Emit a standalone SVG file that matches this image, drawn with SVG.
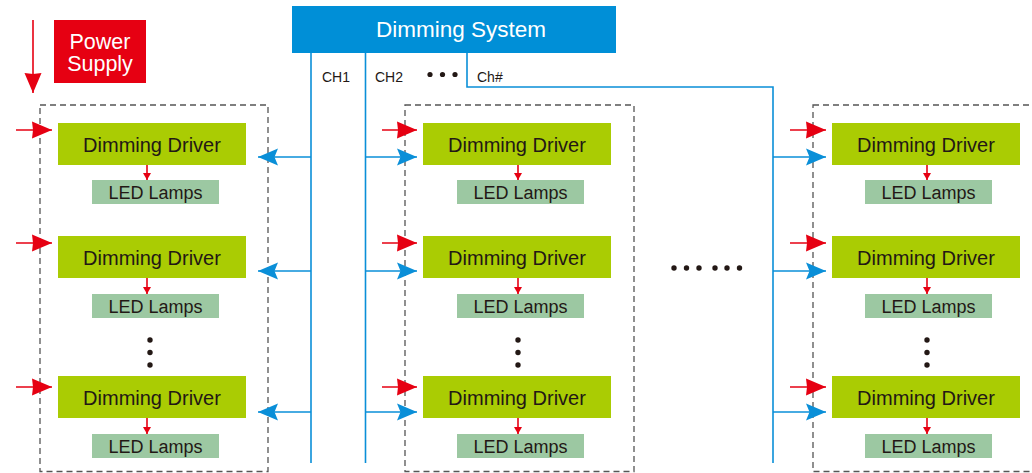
<svg xmlns="http://www.w3.org/2000/svg" width="1032" height="473" viewBox="0 0 1032 473">
<defs>
<style>
.drv{fill:#AACC03}
.led{fill:#9CC8A2}
.dt{font-family:"Liberation Sans",Arial,sans-serif;font-size:20px;fill:#231815;text-anchor:middle}
.lt{font-family:"Liberation Sans",Arial,sans-serif;font-size:18px;fill:#231815;text-anchor:middle}
.ch{font-family:"Liberation Sans",Arial,sans-serif;font-size:14px;fill:#231815}
.grp{fill:none;stroke:#555;stroke-width:1.3;stroke-dasharray:6 4}
.bl{fill:none;stroke:#0A8FD8;stroke-width:1.6}
.rl{fill:none;stroke:#E60012;stroke-width:1.6}
.dot{fill:#231815}
</style>
<marker id="ab" markerUnits="userSpaceOnUse" markerWidth="24" markerHeight="20" viewBox="-22 -10 24 20" refX="0" refY="0" orient="auto">
<path d="M0,0 L-20,-8.5 L-16.5,0 L-20,8.5 Z" fill="#0A8FD8"/>
</marker>
<marker id="ar" markerUnits="userSpaceOnUse" markerWidth="24" markerHeight="20" viewBox="-22 -10 24 20" refX="0" refY="0" orient="auto">
<path d="M0,0 L-20,-8.5 L-19,0 L-20,8.5 Z" fill="#E60012"/>
</marker>
<marker id="ars" markerUnits="userSpaceOnUse" markerWidth="10" markerHeight="10" viewBox="-8 -5 10 10" refX="0" refY="0" orient="auto">
<path d="M0,0 L-7,-4 L-7,4 Z" fill="#E60012"/>
</marker>
</defs>

<g id="group-boxes">
<rect class="grp" x="40" y="105" width="228" height="366.5"/>
<rect class="grp" x="405" y="105" width="229" height="366.5"/>
<rect class="grp" x="813" y="105" width="240" height="366.5"/>
</g>

<g id="power-supply">
<rect x="54" y="20" width="92" height="63" fill="#E60012"/>
<text x="100" y="49" font-family="Liberation Sans, Arial, sans-serif" font-size="21.5" fill="#fff" text-anchor="middle">Power</text>
<text x="100" y="71" font-family="Liberation Sans, Arial, sans-serif" font-size="21.5" fill="#fff" text-anchor="middle">Supply</text>
</g>

<g id="dimming-system">
<rect x="292" y="6" width="324" height="47" fill="#008FD7"/>
<text x="461" y="37" font-family="Liberation Sans, Arial, sans-serif" font-size="22.5" fill="#fff" text-anchor="middle">Dimming System</text>
</g>

<g id="channel-labels">
<text class="ch" x="322" y="82">CH1</text>
<text class="ch" x="375" y="82">CH2</text>
<text class="ch" x="477" y="82">Ch#</text>
<circle class="dot" cx="430" cy="74.5" r="2.6"/>
<circle class="dot" cx="442.5" cy="74.5" r="2.6"/>
<circle class="dot" cx="455" cy="74.5" r="2.6"/>
</g>

<g id="col1">
<g id="d1-1"><rect class="drv" x="58" y="123" width="188" height="42"/><text class="dt" x="152" y="151.5">Dimming Driver</text></g>
<g id="l1-1"><rect class="led" x="92" y="180" width="127" height="24"/><text class="lt" x="155.5" y="198.5">LED Lamps</text></g>
<g id="d1-2"><rect class="drv" x="58" y="236" width="188" height="42"/><text class="dt" x="152" y="264.5">Dimming Driver</text></g>
<g id="l1-2"><rect class="led" x="92" y="294" width="127" height="24"/><text class="lt" x="155.5" y="312.5">LED Lamps</text></g>
<g id="d1-3"><rect class="drv" x="58" y="376" width="188" height="42"/><text class="dt" x="152" y="404.5">Dimming Driver</text></g>
<g id="l1-3"><rect class="led" x="92" y="434" width="127" height="24"/><text class="lt" x="155.5" y="452.5">LED Lamps</text></g>
<circle class="dot" cx="150" cy="340" r="2.7"/><circle class="dot" cx="150" cy="352.5" r="2.7"/><circle class="dot" cx="150" cy="365" r="2.7"/>
</g>

<g id="col2">
<g id="d2-1"><rect class="drv" x="423" y="123" width="188" height="42"/><text class="dt" x="517" y="151.5">Dimming Driver</text></g>
<g id="l2-1"><rect class="led" x="457" y="180" width="127" height="24"/><text class="lt" x="520.5" y="198.5">LED Lamps</text></g>
<g id="d2-2"><rect class="drv" x="423" y="236" width="188" height="42"/><text class="dt" x="517" y="264.5">Dimming Driver</text></g>
<g id="l2-2"><rect class="led" x="457" y="294" width="127" height="24"/><text class="lt" x="520.5" y="312.5">LED Lamps</text></g>
<g id="d2-3"><rect class="drv" x="423" y="376" width="188" height="42"/><text class="dt" x="517" y="404.5">Dimming Driver</text></g>
<g id="l2-3"><rect class="led" x="457" y="434" width="127" height="24"/><text class="lt" x="520.5" y="452.5">LED Lamps</text></g>
<circle class="dot" cx="518" cy="340" r="2.7"/><circle class="dot" cx="518" cy="352.5" r="2.7"/><circle class="dot" cx="518" cy="365" r="2.7"/>
</g>

<g id="col3">
<g id="d3-1"><rect class="drv" x="832" y="123" width="188" height="42"/><text class="dt" x="926" y="151.5">Dimming Driver</text></g>
<g id="l3-1"><rect class="led" x="865" y="180" width="127" height="24"/><text class="lt" x="928.5" y="198.5">LED Lamps</text></g>
<g id="d3-2"><rect class="drv" x="832" y="236" width="188" height="42"/><text class="dt" x="926" y="264.5">Dimming Driver</text></g>
<g id="l3-2"><rect class="led" x="865" y="294" width="127" height="24"/><text class="lt" x="928.5" y="312.5">LED Lamps</text></g>
<g id="d3-3"><rect class="drv" x="832" y="376" width="188" height="42"/><text class="dt" x="926" y="404.5">Dimming Driver</text></g>
<g id="l3-3"><rect class="led" x="865" y="434" width="127" height="24"/><text class="lt" x="928.5" y="452.5">LED Lamps</text></g>
<circle class="dot" cx="927" cy="340" r="2.7"/><circle class="dot" cx="927" cy="352.5" r="2.7"/><circle class="dot" cx="927" cy="365" r="2.7"/>
</g>

<g id="h-dots">
<circle class="dot" cx="674" cy="268" r="2.7"/><circle class="dot" cx="686.5" cy="268" r="2.7"/><circle class="dot" cx="699" cy="268" r="2.7"/>
<circle class="dot" cx="715" cy="268" r="2.7"/><circle class="dot" cx="727" cy="268" r="2.7"/><circle class="dot" cx="739.5" cy="268" r="2.7"/>
</g>

<g id="connectors">
<path class="rl" d="M33,20 V93" marker-end="url(#ar)"/>
<path class="bl" d="M311,53 V463"/>
<path class="bl" d="M365.5,53 V463"/>
<path class="bl" d="M467,53 V87 H773 V463"/>
<path class="bl" d="M311,157 H258" marker-end="url(#ab)"/>
<path class="bl" d="M311,271 H258" marker-end="url(#ab)"/>
<path class="bl" d="M311,412 H258" marker-end="url(#ab)"/>
<path class="bl" d="M365.5,157 H417" marker-end="url(#ab)"/>
<path class="bl" d="M365.5,271 H417" marker-end="url(#ab)"/>
<path class="bl" d="M365.5,412 H417" marker-end="url(#ab)"/>
<path class="bl" d="M773,157 H826" marker-end="url(#ab)"/>
<path class="bl" d="M773,271 H826" marker-end="url(#ab)"/>
<path class="bl" d="M773,412 H826" marker-end="url(#ab)"/>
<path class="rl" d="M16,130 H52" marker-end="url(#ar)"/>
<path class="rl" d="M16,243 H52" marker-end="url(#ar)"/>
<path class="rl" d="M16,387 H52" marker-end="url(#ar)"/>
<path class="rl" d="M382,130 H417" marker-end="url(#ar)"/>
<path class="rl" d="M382,243 H417" marker-end="url(#ar)"/>
<path class="rl" d="M382,387 H417" marker-end="url(#ar)"/>
<path class="rl" d="M790,130 H826" marker-end="url(#ar)"/>
<path class="rl" d="M790,243 H826" marker-end="url(#ar)"/>
<path class="rl" d="M790,387 H826" marker-end="url(#ar)"/>
<path class="rl" d="M147,165 V180" marker-end="url(#ars)"/>
<path class="rl" d="M147,278 V294" marker-end="url(#ars)"/>
<path class="rl" d="M147,418 V434" marker-end="url(#ars)"/>
<path class="rl" d="M518,165 V180" marker-end="url(#ars)"/>
<path class="rl" d="M518,278 V294" marker-end="url(#ars)"/>
<path class="rl" d="M518,418 V434" marker-end="url(#ars)"/>
<path class="rl" d="M927,165 V180" marker-end="url(#ars)"/>
<path class="rl" d="M927,278 V294" marker-end="url(#ars)"/>
<path class="rl" d="M927,418 V434" marker-end="url(#ars)"/>
</g>
</svg>
